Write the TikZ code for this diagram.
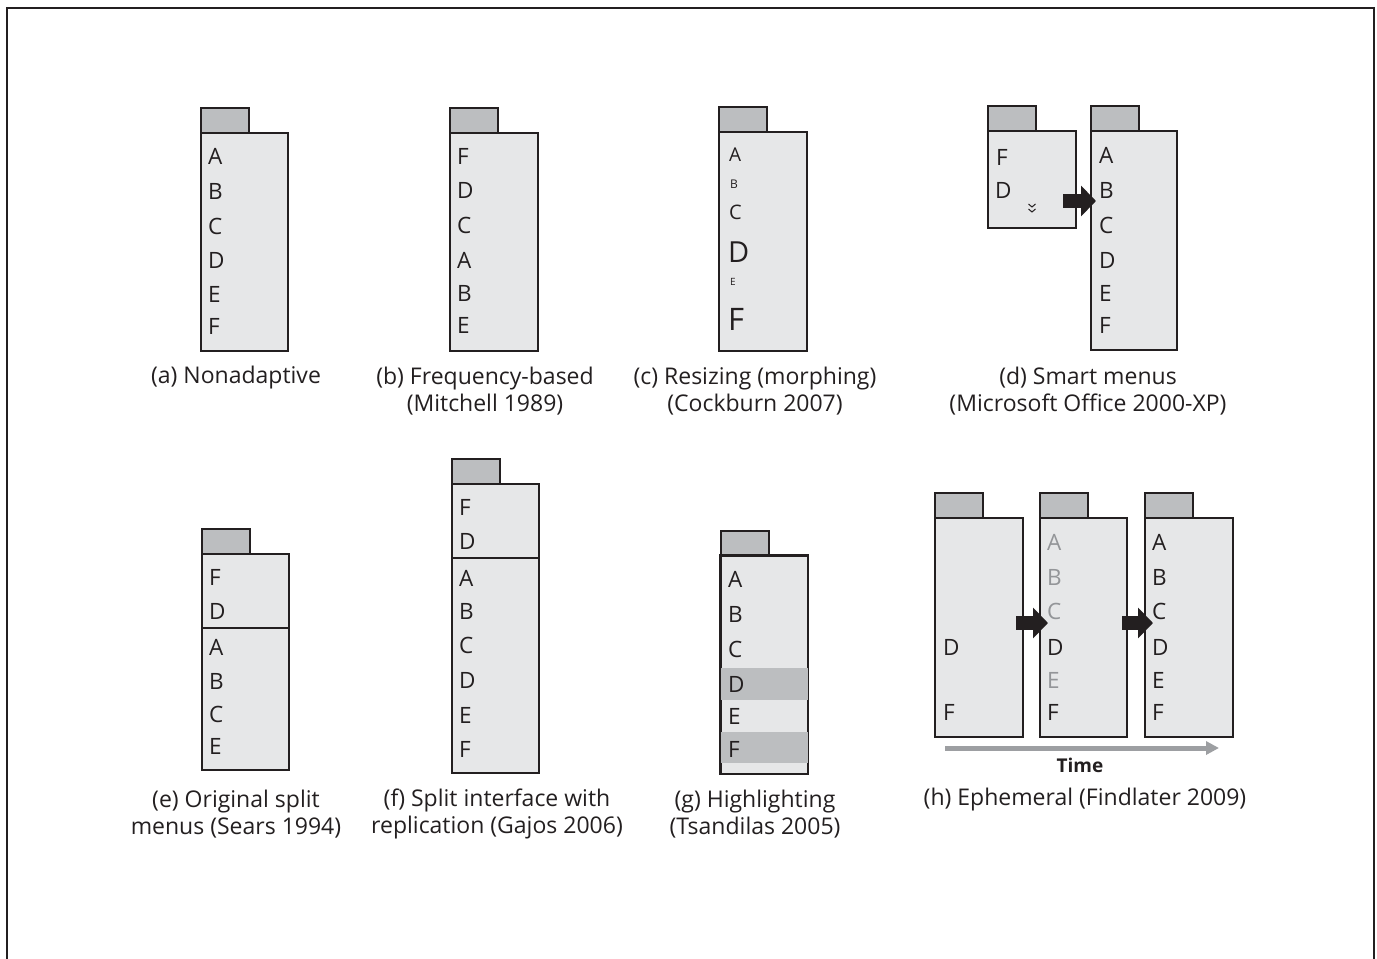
\documentclass[tikz,border=0pt]{standalone}
\usepackage{fontspec}
\setmainfont{Open Sans}
\usetikzlibrary{arrows.meta}
\definecolor{bodyc}{HTML}{E6E7E8}
\definecolor{tabc}{HTML}{BCBEC0}
\definecolor{linec}{HTML}{231F20}
\definecolor{hic}{HTML}{BCBEC0}
\definecolor{fadec}{HTML}{939598}
\definecolor{timec}{HTML}{9D9FA2}
\tikzset{
  tabbox/.style={draw=linec, fill=tabc, line width=1.6pt, rectangle, inner sep=0pt, anchor=north west, minimum width=48pt, minimum height=25pt},
  bodybox/.style={draw=linec, fill=bodyc, line width=1.6pt, rectangle, inner sep=0pt, anchor=north west},
  item/.style={anchor=west, inner sep=0pt, font=\fontsize{22.5}{22.5}\selectfont, text=linec},
  fadeitem/.style={item, text=fadec},
  caption/.style={align=center, inner sep=0pt, font=\fontsize{23}{27}\selectfont, text=linec},
  divline/.style={draw=linec, line width=1.6pt},
  blockarr/.style={draw=linec, line width=14pt, -{Triangle[length=15pt, width=30pt]}},
  timearr/.style={draw=timec, line width=5pt, -{Triangle[length=13pt, width=13pt]}},
  chev/.style={draw=linec, line width=1pt},
}
% \menubox{name}{x}{tab top}{body width}{body height}
\newcommand{\menubox}[5]{%
  \node[tabbox] (#1tab) at (#2,#3) {};
  \node[bodybox, minimum width=#4pt, minimum height=#5pt] (#1) at (#2,#3+25) {};
}
\begin{document}
\begin{tikzpicture}[x=1pt,y=-1pt]
\useasboundingbox (0,0) rectangle (1377,959);
\draw[line width=2pt, linec] (6.5,7.5) rectangle (1373.5,980);

% (a)
\menubox{a}{200}{107}{87}{218}
\node[item] (a1) at (208,156) {A};
\node[item] (a2) at (208,191) {B};
\node[item] (a3) at (208,226) {C};
\node[item] (a4) at (208,260) {D};
\node[item] (a5) at (208,294) {E};
\node[item] (a6) at (208,326) {F};
\node[caption] (capa) at (236,378) {(a) Nonadaptive};

% (b)
\menubox{b}{449}{107}{88}{218}
\node[item] (b1) at (457,156) {F};
\node[item] (b2) at (457,190) {D};
\node[item] (b3) at (457,225) {C};
\node[item] (b4) at (457,260) {A};
\node[item] (b5) at (457,293) {B};
\node[item] (b6) at (457,325) {E};
\node[caption] (capb) at (485,391.5) {(b) Frequency-based\\(Mitchell 1989)};

% (c)
\menubox{c}{718}{106}{88}{219}
\node[item, font=\fontsize{19}{19}\selectfont] (c1) at (729,155) {A};
\node[item, font=\fontsize{12}{12}\selectfont] (c2) at (730,184) {B};
\node[item, font=\fontsize{20}{20}\selectfont] (c3) at (729,212) {C};
\node[item, font=\fontsize{29}{29}\selectfont] (c4) at (728,252) {D};
\node[item, font=\fontsize{10}{10}\selectfont] (c5) at (730,282) {E};
\node[item, font=\fontsize{31}{31}\selectfont] (c6) at (728,319) {F};
\node[caption] (capc) at (755,391.5) {(c) Resizing (morphing)\\(Cockburn 2007)};

% (d)
\menubox{ds}{987}{105}{88}{97}
\node[item] (ds1) at (996,157) {F};
\node[item] (ds2) at (995,190) {D};
\coordinate (chv) at (1032,208);
\draw[chev] ([shift={(-3.5,-4)}]chv) -- ([shift={(0,-1)}]chv) -- ([shift={(3.5,-4)}]chv);
\draw[chev] ([shift={(-3.5,1)}]chv) -- ([shift={(0,4)}]chv) -- ([shift={(3.5,1)}]chv);
\menubox{db}{1090}{105}{86}{219}
\node[item] (db1) at (1099,155) {A};
\node[item] (db2) at (1099,190) {B};
\node[item] (db3) at (1099,225) {C};
\node[item] (db4) at (1099,260) {D};
\node[item] (db5) at (1099,293) {E};
\node[item] (db6) at (1099,325) {F};
\coordinate (darrs) at (1063,201);
\coordinate (darre) at (1096,201);
\draw[blockarr] (darrs) -- (darre);
\node[caption] (capd) at (1088,391.5) {(d) Smart menus\\(Microsoft Office 2000-XP)};

% (e)
\menubox{e}{201}{528}{87}{216}
\draw[divline] ([yshift=-75pt]e.north west) -- ([yshift=-75pt]e.north east);
\node[item] (e1) at (209,577) {F};
\node[item] (e2) at (209,611) {D};
\node[item] (e3) at (209,647) {A};
\node[item] (e4) at (209,681) {B};
\node[item] (e5) at (209,714) {C};
\node[item] (e6) at (209,746) {E};
\node[caption] (cape) at (236,814) {(e) Original split\\menus (Sears 1994)};

% (f)
\menubox{f}{451}{458}{87}{289}
\draw[divline] ([yshift=-75pt]f.north west) -- ([yshift=-75pt]f.north east);
\node[item] (f1) at (459,507) {F};
\node[item] (f2) at (459,541) {D};
\node[item] (f3) at (459,578) {A};
\node[item] (f4) at (459,611) {B};
\node[item] (f5) at (459,645) {C};
\node[item] (f6) at (459,680) {D};
\node[item] (f7) at (459,715) {E};
\node[item] (f8) at (459,749) {F};
\node[caption] (capf) at (497,814) {(f) Split interface with\\replication (Gajos 2006)};

% (g)
\menubox{g}{720}{530}{87}{218}
\fill[hic] ([shift={(0.8,113)}]g.north west) rectangle ([shift={(-0.8,145)}]g.north east);
\fill[hic] ([shift={(0.8,177)}]g.north west) rectangle ([shift={(-0.8,208)}]g.north east);
\draw[linec, line width=1.6pt] (g.north west) rectangle (g.south east);
\node[item] (g1) at (728,579) {A};
\node[item] (g2) at (728,614) {B};
\node[item] (g3) at (728,649) {C};
\node[item] (g4) at (728,684) {D};
\node[item] (g5) at (728,716) {E};
\node[item] (g6) at (728,749) {F};
\node[caption] (capg) at (755,814) {(g) Highlighting\\(Tsandilas 2005)};

% (h)
\menubox{ha}{934}{492}{88}{219}
\node[item] (ha4) at (943,647) {D};
\node[item] (ha6) at (943,712) {F};
\menubox{hb}{1039}{492}{87}{219}
\node[fadeitem] (hb1) at (1047,542) {A};
\node[fadeitem] (hb2) at (1047,577) {B};
\node[fadeitem] (hb3) at (1047,611) {C};
\node[item] (hb4) at (1047,647) {D};
\node[fadeitem] (hb5) at (1047,680) {E};
\node[item] (hb6) at (1047,712) {F};
\menubox{hc}{1144}{492}{88}{219}
\node[item] (hc1) at (1152,542) {A};
\node[item] (hc2) at (1152,577) {B};
\node[item] (hc3) at (1152,611) {C};
\node[item] (hc4) at (1152,647) {D};
\node[item] (hc5) at (1152,680) {E};
\node[item] (hc6) at (1152,712) {F};
\coordinate (h1s) at (1016,623);
\coordinate (h1e) at (1048,623);
\coordinate (h2s) at (1122,623);
\coordinate (h2e) at (1153,623);
\draw[blockarr] (h1s) -- (h1e);
\draw[blockarr] (h2s) -- (h2e);
\coordinate (ts) at (945,748);
\coordinate (te) at (1219,748);
\draw[timearr] (ts) -- (te);
\node[inner sep=0pt, font=\fontsize{19}{19}\selectfont\bfseries, text=linec] (time) at (1080,765) {Time};
\node[caption] (caph) at (1085,800) {(h) Ephemeral (Findlater 2009)};
\end{tikzpicture}
\end{document}
